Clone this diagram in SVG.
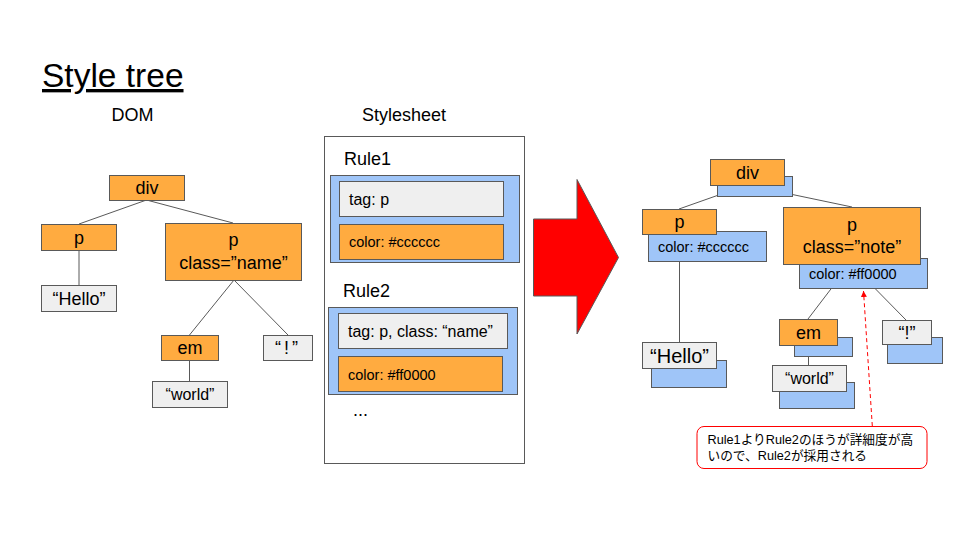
<svg xmlns="http://www.w3.org/2000/svg" width="960" height="540" viewBox="0 0 960 540">
<defs>
<style>
text{font-family:"Liberation Sans",Arial,sans-serif;fill:#000}
.o{fill:#ffab40;stroke:#595959;stroke-width:1}
.g{fill:#efefef;stroke:#595959;stroke-width:1}
.b{fill:#9fc5f8;stroke:#595959;stroke-width:1}
.c{stroke:#595959;stroke-width:1;fill:none}
.t18{font-size:18px}
.t16{font-size:16px}
.t14{font-size:14.5px}
.m{text-anchor:middle}
.jp{font-family:"Liberation Sans","Noto Sans CJK JP",sans-serif;font-size:12.7px}
</style>
<marker id="ah" markerWidth="8" markerHeight="8" refX="6" refY="4" orient="auto" markerUnits="userSpaceOnUse">
<path d="M0,1 L6,4 L0,7 Z" fill="#ff0000"/>
</marker>
</defs>
<rect width="960" height="540" fill="#ffffff"/>

<g id="title">
<text x="42" y="87" font-size="33.5" text-decoration="underline">Style tree</text>
</g>
<g id="label-dom"><text x="132.5" y="121" class="t18 m">DOM</text></g>
<g id="label-stylesheet"><text x="404" y="121" class="t18 m">Stylesheet</text></g>

<g id="connectors">
<line class="c" x1="146.5" y1="200" x2="79" y2="224"/>
<line class="c" x1="146.5" y1="200" x2="233" y2="223"/>
<line class="c" x1="79" y1="250" x2="79" y2="285"/>
<line class="c" x1="234" y1="280" x2="189.5" y2="335"/>
<line class="c" x1="234" y1="280" x2="288" y2="335"/>
<line class="c" x1="189.5" y1="360" x2="189.5" y2="381"/>
<line class="c" x1="747" y1="185" x2="679" y2="209"/>
<line class="c" x1="747" y1="185" x2="852" y2="207"/>
<line class="c" x1="679.5" y1="261" x2="679.5" y2="342"/>
<line class="c" x1="850" y1="264" x2="808" y2="319"/>
<line class="c" x1="851" y1="264" x2="906" y2="320"/>
<line class="c" x1="808.5" y1="356" x2="808.5" y2="365"/>
<line x1="872.3" y1="426" x2="863.5" y2="291" stroke="#ff0000" stroke-width="1" stroke-dasharray="4 3" marker-end="url(#ah)"/>
</g>

<g id="dom-div"><rect class="o" x="109.5" y="175.5" width="75" height="25"/><text x="147" y="194" class="t18 m">div</text></g>
<g id="dom-p"><rect class="o" x="41.5" y="224.5" width="75" height="26"/><text x="79" y="244" class="t18 m">p</text></g>
<g id="dom-pclass"><rect class="o" x="165.5" y="223.5" width="136" height="57"/><text x="233.5" y="246" class="t18 m">p</text><text x="233.5" y="269" class="t18 m">class=”name”</text></g>
<g id="dom-hello"><rect class="g" x="41.5" y="285.5" width="75" height="26"/><text x="79" y="304.5" class="t18 m">“Hello”</text></g>
<g id="dom-em"><rect class="o" x="161.5" y="335.5" width="57" height="25"/><text x="190" y="354" class="t18 m">em</text></g>
<g id="dom-excl"><rect class="g" x="263.5" y="335.5" width="49" height="25"/><text x="288" y="354" class="t18 m" letter-spacing="3">“!”</text></g>
<g id="dom-world"><rect class="g" x="152.5" y="381.5" width="75" height="26"/><text x="190" y="400" class="t16 m">“world”</text></g>

<g id="stylesheet">
<rect x="324.5" y="136.5" width="200" height="327" fill="#ffffff" stroke="#595959" stroke-width="1"/>
<text x="344" y="165" class="t18">Rule1</text>
<text x="343" y="297" class="t18">Rule2</text>
<text x="353" y="416" class="t18">...</text>
</g>
<g id="rule1">
<rect class="b" x="330.5" y="175.5" width="189" height="87"/>
<rect class="g" x="339.5" y="181.5" width="164" height="35"/>
<text x="349" y="204.5" class="t16">tag: p</text>
<rect class="o" x="339.5" y="224.5" width="164" height="35"/>
<text x="349" y="247" class="t14">color: #cccccc</text>
</g>
<g id="rule2">
<rect class="b" x="328.5" y="307.5" width="189" height="87"/>
<rect class="g" x="338.5" y="313.5" width="169" height="35"/>
<text x="348" y="337" class="t16">tag: p, class: “name”</text>
<rect class="o" x="338.5" y="356.5" width="164" height="35"/>
<text x="348" y="379.5" class="t14">color: #ff0000</text>
</g>

<g id="big-arrow">
<path d="M533.5,219 L577,219 L577,179.5 L618.5,257.5 L577,334 L577,296 L533.5,296 Z" fill="#ff0000" stroke="#595959" stroke-width="1"/>
</g>

<g id="st-div"><rect class="b" x="717.5" y="176.5" width="75" height="20"/><rect class="o" x="710.5" y="159.5" width="74" height="26"/><text x="747.5" y="178.5" class="t18 m">div</text></g>
<g id="st-p"><rect class="b" x="648.5" y="231.5" width="118" height="30"/><rect class="o" x="642.5" y="209.5" width="74" height="25"/><text x="679.5" y="228" class="t18 m">p</text><text x="658" y="252" class="t14">color: #cccccc</text></g>
<g id="st-pnote"><rect class="b" x="799.5" y="258.5" width="128" height="30"/><rect class="o" x="783.5" y="207.5" width="137" height="57"/><text x="852" y="231" class="t18 m">p</text><text x="852" y="252.5" class="t18 m">class=”note”</text><text x="809" y="278.5" class="t14">color: #ff0000</text></g>
<g id="st-hello"><rect class="b" x="651.5" y="360.5" width="75" height="27"/><rect class="g" x="642.5" y="342.5" width="74" height="26"/><text x="679.5" y="362.5" font-size="20" class="m">“Hello”</text></g>
<g id="st-em"><rect class="b" x="794.5" y="337.5" width="58" height="19"/><rect class="o" x="779.5" y="319.5" width="58" height="26"/><text x="808.5" y="338.5" class="t18 m">em</text></g>
<g id="st-excl"><rect class="b" x="887.5" y="337.5" width="55" height="26"/><rect class="g" x="882.5" y="320.5" width="49" height="24"/><text x="907" y="338.5" class="t18 m">“!”</text></g>
<g id="st-world"><rect class="b" x="779.5" y="382.5" width="75" height="26"/><rect class="g" x="772.5" y="365.5" width="74" height="26"/><text x="809.5" y="384" class="t16 m">“world”</text></g>

<g id="callout">
<rect x="697" y="426.5" width="230" height="42" rx="7" fill="#ffffff" stroke="#ff0000" stroke-width="1"/>
<text x="707.5" y="443.5" class="jp">Rule1よりRule2のほうが詳細度が高</text>
<text x="707.5" y="459.5" class="jp">いので、Rule2が採用される</text>
</g>
</svg>
